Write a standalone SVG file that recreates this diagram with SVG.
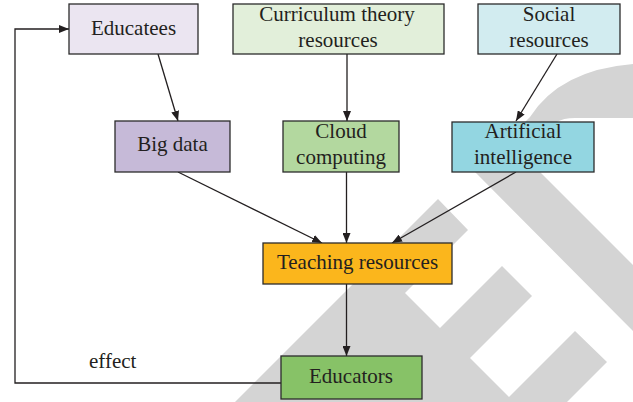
<svg xmlns="http://www.w3.org/2000/svg" width="633" height="402" viewBox="0 0 633 402">
<style>
.box{stroke:#2b2b2b;stroke-width:1.3}
.t{font-family:"Liberation Serif","Times New Roman",serif;font-size:21px;fill:#231f20;text-anchor:middle}
.c{fill:none;stroke:#231f20;stroke-width:1.3}
.wm{fill:#d4d4d4;stroke:none}
</style>
<defs>
<marker id="ah" markerWidth="10" markerHeight="8" refX="10" refY="4" orient="auto" markerUnits="userSpaceOnUse">
<path d="M0,0 L10,4 L0,8 Z" fill="#231f20"/>
</marker>
</defs>
<rect width="633" height="402" fill="#ffffff"/>
<g id="watermark">
<path class="wm" d="M633,64 Q560,70 530,117 L475,172 L633,331 L633,265 L540,172 L545,135 Q552,118 575,118 L633,118 Z"/>
<path class="wm" d="M438,199 L468,230 L405,293 L440,328 L502,266 L532,296 L470,358 L509,397 L575,331 L607,362 L559,410 L227,410 Z"/>
</g>
<g id="connectors">
<path class="c" d="M158,54 L178,121" marker-end="url(#ah)"/>
<path class="c" d="M347,54 L347,121" marker-end="url(#ah)"/>
<path class="c" d="M557,54 L516,121" marker-end="url(#ah)"/>
<path class="c" d="M178,172 L322,243" marker-end="url(#ah)"/>
<path class="c" d="M346.5,172 L346.5,243" marker-end="url(#ah)"/>
<path class="c" d="M516,172 L392,243" marker-end="url(#ah)"/>
<path class="c" d="M346.5,284 L346.5,356" marker-end="url(#ah)"/>
<path class="c" d="M281,383 L15,383 L15,29 L69,29" marker-end="url(#ah)"/>
<text class="t" x="89" y="368" style="text-anchor:start">effect</text>
</g>
<g id="educatees">
<rect class="box" x="69" y="4" width="129" height="50" fill="#ebe5f1"/>
<text class="t" x="133.5" y="35">Educatees</text>
</g>
<g id="curriculum">
<rect class="box" x="233" y="4" width="211" height="50" fill="#e2efda"/>
<text class="t" x="337" y="21">Curriculum theory</text>
<text class="t" x="338" y="47">resources</text>
</g>
<g id="social">
<rect class="box" x="478" y="4" width="142" height="50" fill="#d2ecf0"/>
<text class="t" x="549" y="21">Social</text>
<text class="t" x="549" y="47">resources</text>
</g>
<g id="bigdata">
<rect class="box" x="115" y="121" width="115" height="51" fill="#c6bad8"/>
<text class="t" x="172.5" y="151">Big data</text>
</g>
<g id="cloud">
<rect class="box" x="283" y="121" width="116" height="51" fill="#b3d89f"/>
<text class="t" x="341" y="138">Cloud</text>
<text class="t" x="341" y="164">computing</text>
</g>
<g id="ai">
<rect class="box" x="452" y="122" width="142" height="50" fill="#93d6e1"/>
<text class="t" x="523" y="138">Artificial</text>
<text class="t" x="523" y="164">intelligence</text>
</g>
<g id="teaching">
<rect class="box" x="263" y="243" width="189" height="41" fill="#fbb61c"/>
<text class="t" x="357.5" y="269">Teaching resources</text>
</g>
<g id="educators">
<rect class="box" x="281" y="356" width="141" height="43" fill="#87c267"/>
<text class="t" x="351" y="383">Educators</text>
</g>
</svg>
